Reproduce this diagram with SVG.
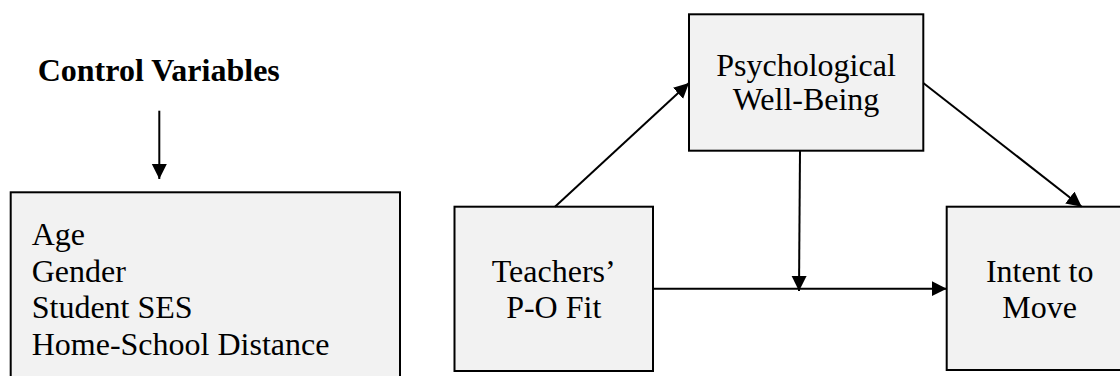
<svg xmlns="http://www.w3.org/2000/svg" width="1120" height="376" viewBox="0 0 1120 376">
<style>
.box{fill:#f2f2f2;stroke:#000;stroke-width:2}
text{font-family:'Liberation Serif','Tinos','DejaVu Serif',serif;font-size:32px;fill:#000}
.c{text-anchor:middle}
.b{font-weight:bold}
.ln{stroke:#000;stroke-width:2;fill:none;marker-end:url(#ah)}
</style>
<defs>
<marker id="ah" markerUnits="userSpaceOnUse" markerWidth="16" markerHeight="16" refX="15" refY="7.5" orient="auto" viewBox="0 0 16 16">
<path d="M0,0 L15,7.5 L0,15 z" fill="#000"/>
</marker>
</defs>
<g id="control-title">
<text class="b" x="37.7" y="81">Control Variables</text>
</g>
<g id="control-box">
<rect class="box" x="10.7" y="192.3" width="389.3" height="200"/>
<text x="31.7" y="245">Age</text>
<text x="31.7" y="281.7">Gender</text>
<text x="31.7" y="318.3">Student SES</text>
<text x="31.7" y="355">Home-School Distance</text>
</g>
<g id="psych">
<rect class="box" x="689" y="14.3" width="234.3" height="136.4"/>
<text class="c" x="806" y="76">Psychological</text>
<text class="c" x="806" y="110">Well-Being</text>
</g>
<g id="teachers">
<rect class="box" x="454.5" y="206.7" width="198.5" height="164.3"/>
<text class="c" x="553.7" y="281.7">Teachers’</text>
<text class="c" x="553.7" y="318">P-O Fit</text>
</g>
<g id="intent">
<rect class="box" x="946.7" y="206.7" width="186" height="163.3"/>
<text class="c" x="1039.7" y="281.7">Intent to</text>
<text class="c" x="1039.7" y="318">Move</text>
</g>
<g id="connectors">
<line class="ln" x1="159.3" y1="110.7" x2="159.3" y2="179"/>
<line class="ln" x1="555" y1="206.7" x2="689" y2="83"/>
<line class="ln" x1="923.3" y1="83" x2="1081.7" y2="206.7"/>
<line class="ln" x1="653" y1="288.7" x2="946.7" y2="288.7"/>
<line class="ln" x1="800" y1="150.7" x2="799" y2="291"/>
</g>
</svg>
